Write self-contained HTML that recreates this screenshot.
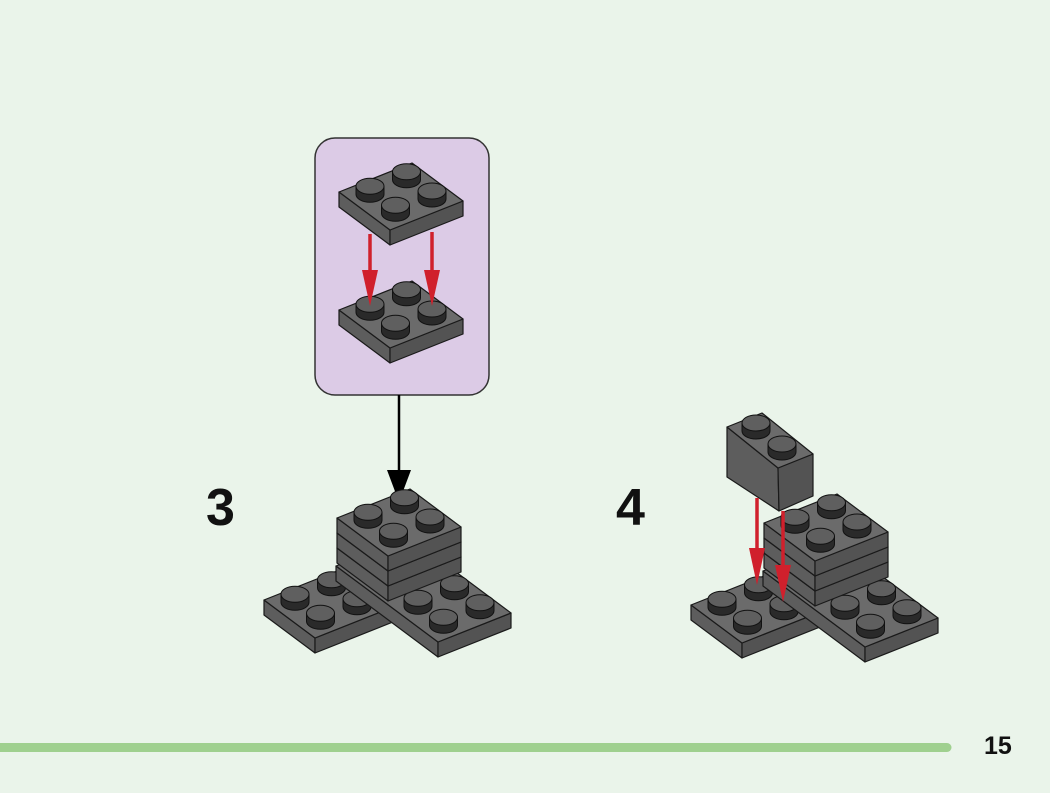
<!DOCTYPE html>
<html><head><meta charset="utf-8"><style>
html,body{margin:0;padding:0;background:#eaf4ea;}
body{width:1050px;height:793px;overflow:hidden;position:relative;font-family:"Liberation Sans",sans-serif;}
.n{position:absolute;font-weight:bold;color:#111;}
</style></head><body>
<svg width="1050" height="793" viewBox="0 0 1050 793" style="position:absolute;left:0;top:0">
<defs>
<g id="s">
<path d="M-14,0 L-14,-8 L14,-8 L14,0 A14,8 0 0 1 -14,0 Z" fill="#2a2a2a" stroke="#111" stroke-width="1"/>
<ellipse cx="0" cy="-8" rx="14" ry="8" fill="#5f5f5f" stroke="#111" stroke-width="1"/>
</g>
<g id="b22" stroke="#1a1a1a" stroke-width="1.2" stroke-linejoin="round">
<polygon points="0,0 51,38 51,53 0,15" fill="#5d5d5d"/>
<polygon points="51,38 124,9 124,24 51,53" fill="#535353"/>
<polygon points="0,0 73,-29 124,9 51,38" fill="#6b6b6b"/>
</g>
<g id="p22">
<use href="#b22"/>
<use href="#s" x="67.5" y="-12.25"/><use href="#s" x="31" y="2.25"/><use href="#s" x="93" y="7"/><use href="#s" x="56.5" y="21.25"/>
</g>
<g id="p24">
<g stroke="#1a1a1a" stroke-width="1.2" stroke-linejoin="round">
<polygon points="0,0 51,38 51,53 0,15" fill="#5d5d5d"/>
<polygon points="51,38 197,-20 197,-5 51,53" fill="#535353"/>
<polygon points="0,0 146,-58 197,-20 51,38" fill="#6b6b6b"/>
</g>
<use href="#s" x="140.5" y="-41.25"/><use href="#s" x="104" y="-26.75"/><use href="#s" x="166" y="-22.25"/>
<use href="#s" x="67.5" y="-12.25"/><use href="#s" x="129.5" y="-7.75"/><use href="#s" x="31" y="2.25"/><use href="#s" x="93" y="6.75"/><use href="#s" x="56.5" y="21.25"/>
</g>
<g id="p42">
<g stroke="#1a1a1a" stroke-width="1.2" stroke-linejoin="round">
<polygon points="0,0 102,76 102,91 0,15" fill="#5d5d5d"/>
<polygon points="102,76 175,47 175,62 102,91" fill="#535353"/>
<polygon points="0,0 73,-29 175,47 102,76" fill="#6b6b6b"/>
</g>
<use href="#s" x="67.5" y="-12.25"/><use href="#s" x="31" y="2.25"/><use href="#s" x="93" y="6.75"/><use href="#s" x="56.5" y="21.25"/>
<use href="#s" x="118.5" y="25.75"/><use href="#s" x="82" y="40.25"/><use href="#s" x="144" y="44.75"/><use href="#s" x="107.5" y="59.25"/>
</g>
<g id="model">
<use href="#p24" x="264" y="600"/>
<use href="#p42" x="336" y="566"/>
<use href="#b22" x="337" y="548"/>
<use href="#b22" x="337" y="533"/>
<use href="#p22" x="337" y="518"/>
</g>
</defs>

<rect x="315" y="138" width="174" height="257" rx="20" fill="#dccbe6" stroke="#333" stroke-width="1.5"/>
<use href="#p22" x="339" y="310"/>
<use href="#p22" x="339" y="192"/>
<g stroke="#d0202c" stroke-width="3.5">
<line x1="370" y1="234" x2="370" y2="280"/>
<line x1="432" y1="232" x2="432" y2="280"/>
</g>
<polygon points="362,270 378,270 370,306" fill="#d0202c"/>
<polygon points="424,270 440,270 432,306" fill="#d0202c"/>

<line x1="399" y1="395" x2="399" y2="475" stroke="#000" stroke-width="2.5"/>
<polygon points="387,470 411,470 399,502" fill="#000"/>

<use href="#model"/>

<use href="#model" x="427" y="5"/>
<g stroke="#1a1a1a" stroke-width="1.2" stroke-linejoin="round">
<polygon points="727,427 778,468 779,511 727,477" fill="#5d5d5d"/>
<polygon points="778,468 813,454 813,496 779,511" fill="#535353"/>
<polygon points="727,427 762,413 813,454 778,468" fill="#6b6b6b"/>
</g>
<use href="#s" x="756" y="431"/>
<use href="#s" x="782" y="452"/>
<g stroke="#d0202c" stroke-width="3.5">
<line x1="757" y1="498" x2="757" y2="555"/>
<line x1="783" y1="511" x2="783" y2="570"/>
</g>
<polygon points="749,548 765,548 757,585" fill="#d0202c"/>
<polygon points="775,565 791,565 783,602" fill="#d0202c"/>

<line x1="-10" y1="747.5" x2="947" y2="747.5" stroke="#9fd08f" stroke-width="9" stroke-linecap="round"/>
</svg>
<div class="n" style="left:206px;top:480px;font-size:52px;line-height:56px;">3</div>
<div class="n" style="left:616px;top:480px;font-size:52px;line-height:56px;">4</div>
<div class="n" style="left:984px;top:732px;font-size:25px;line-height:28px;">15</div>
</body></html>
